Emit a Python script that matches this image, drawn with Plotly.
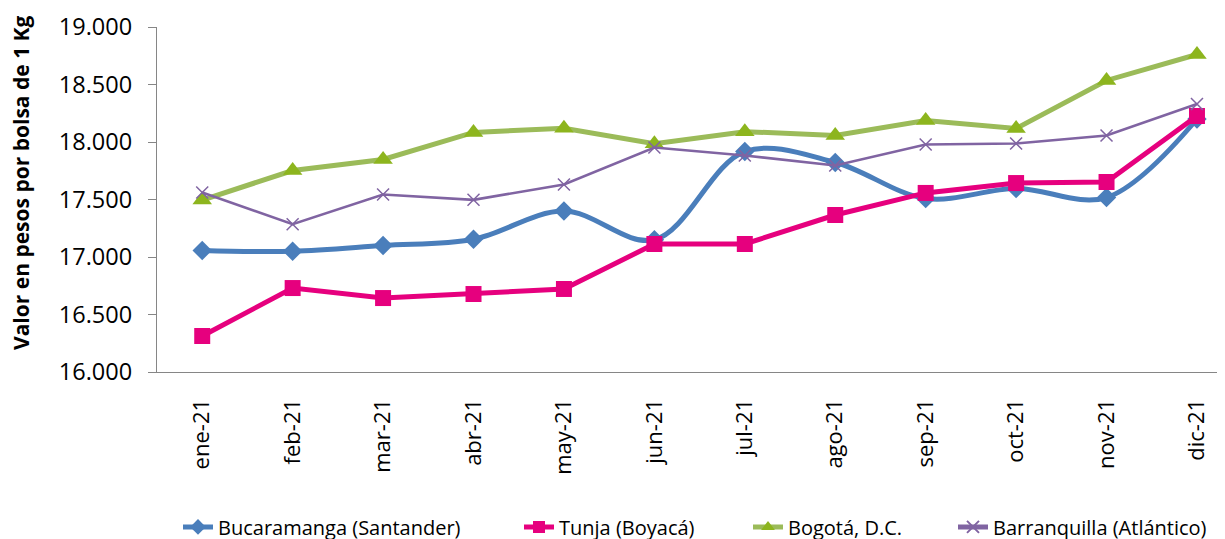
import plotly.graph_objects as go

months = ["ene-21", "feb-21", "mar-21", "abr-21", "may-21", "jun-21",
          "jul-21", "ago-21", "sep-21", "oct-21", "nov-21", "dic-21"]

bucaramanga = [17057, 17050, 17100, 17155, 17400, 17150, 17917, 17822, 17509, 17596, 17517, 18200]
tunja = [16313, 16730, 16643, 16678, 16722, 17113, 17113, 17365, 17557, 17643, 17652, 18226]
bogota = [17495, 17752, 17848, 18083, 18120, 17985, 18090, 18057, 18187, 18117, 18535, 18761]
barranquilla = [17561, 17285, 17543, 17497, 17630, 17952, 17883, 17796, 17978, 17987, 18057, 18330]

y_ticks = [16000, 16500, 17000, 17500, 18000, 18500, 19000]
y_title = "Valor en pesos por bolsa de 1 Kg"

FONT = "Open Sans"
AXIS_COLOR = "#868686"

fig = go.Figure()

fig.add_trace(go.Scatter(
    x=months, y=bucaramanga, name="Bucaramanga (Santander)", mode="lines+markers",
    line=dict(color="#4A7EBB", width=5, shape="spline", smoothing=1),
    marker=dict(symbol="diamond", size=15, color="#4A7EBB"),
    legend="legend",
))
fig.add_trace(go.Scatter(
    x=months, y=tunja, name="Tunja (Boyacá)", mode="lines+markers",
    line=dict(color="#E6007E", width=5),
    marker=dict(symbol="square", size=16, color="#E6007E"),
    legend="legend2",
))
fig.add_trace(go.Scatter(
    x=months, y=bogota, name="Bogotá, D.C.", mode="lines+markers",
    line=dict(color="#9BBB59", width=5),
    marker=dict(symbol="triangle-up", size=17, color="#8DB51E"),
    legend="legend3",
))
fig.add_trace(go.Scatter(
    x=months, y=barranquilla, name="Barranquilla (Atlántico)", mode="lines+markers",
    line=dict(color="#8064A2", width=2.6),
    marker=dict(symbol="x-thin-open", size=12, line=dict(color="#8064A2", width=1.5)),
    legend="legend4",
))

# page body has an 8px default margin; plot area spans page x 157..1225, y 27..372
PLOT_W = 1068
def px_x(px):
    return (px - 157) / PLOT_W

legend_common = dict(
    orientation="h", yanchor="middle", y=-0.449, xanchor="left",
    font=dict(family=FONT, size=20, color="black"),
    itemwidth=30, itemsizing="constant", bgcolor="rgba(0,0,0,0)",
)

fig.update_layout(
    width=1225, height=539,
    margin=dict(l=149, r=8, t=19, b=175, autoexpand=False),
    paper_bgcolor="white", plot_bgcolor="white",
    separators=",.",
    font=dict(family=FONT, color="black", size=20),
    showlegend=True,
    legend=dict(legend_common, x=px_x(178)),
    legend2=dict(legend_common, x=px_x(519)),
    legend3=dict(legend_common, x=px_x(748)),
    legend4=dict(legend_common, x=px_x(953)),
    annotations=[dict(
        text="<b>" + y_title + "</b>", textangle=-90,
        xref="paper", yref="paper", x=px_x(21), y=(372 - 183) / 345,
        xanchor="center", yanchor="middle", showarrow=False,
        font=dict(family=FONT, size=21, color="black"),
    )],
)

fig.update_xaxes(
    type="category", range=[-0.5, 11.31],
    showline=True, linecolor=AXIS_COLOR, linewidth=1.3,
    showgrid=False, ticks="", tickangle=-90,
    tickfont=dict(family=FONT, size=22, color="black"),
    ticklabelstandoff=17, automargin=False,
)
fig.update_yaxes(
    range=[16000, 19000], tickvals=y_ticks, tickformat=",d",
    showline=True, linecolor=AXIS_COLOR, linewidth=1.3,
    showgrid=False, zeroline=False,
    ticks="outside", ticklen=8, tickcolor=AXIS_COLOR, tickwidth=1.3,
    tickfont=dict(family=FONT, size=23.5, color="black"),
    ticklabelstandoff=11, automargin=False,
)

fig.write_html("out.html")
